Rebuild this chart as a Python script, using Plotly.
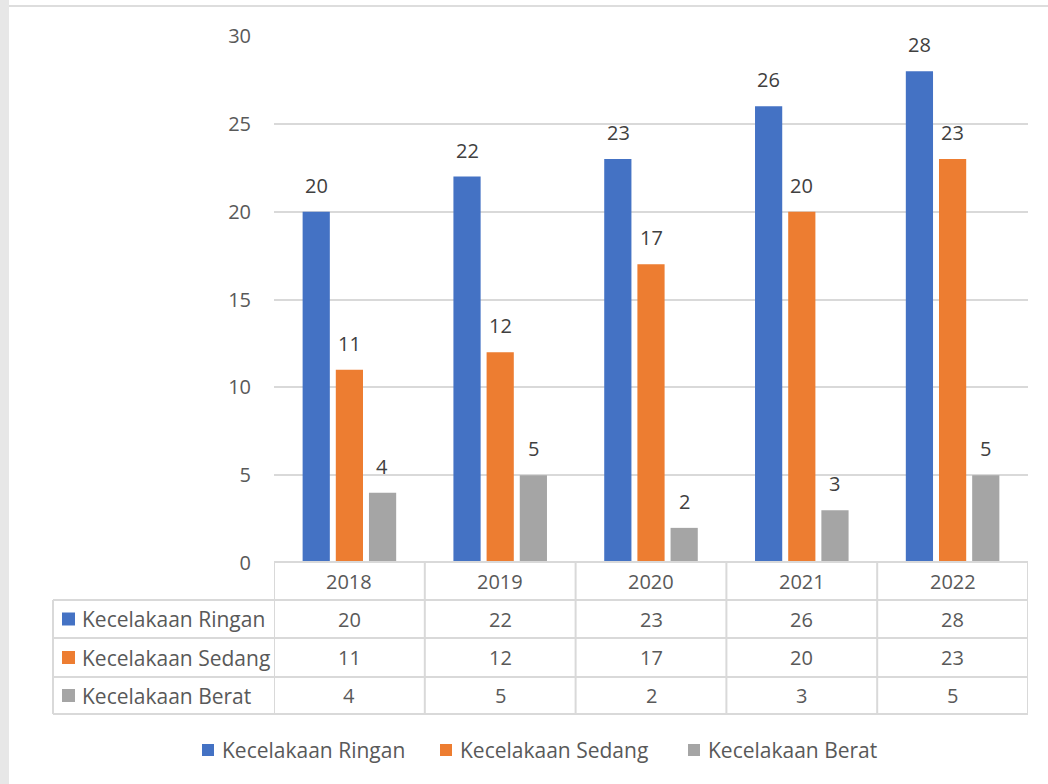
import plotly.graph_objects as go

years = ["2018", "2019", "2020", "2021", "2022"]
series_names = ["Kecelakaan Ringan", "Kecelakaan Sedang", "Kecelakaan Berat"]
ringan = [20, 22, 23, 26, 28]
sedang = [11, 12, 17, 20, 23]
berat = [4, 5, 2, 3, 5]
colors = ["#4472C4", "#ED7D31", "#A5A5A5"]
y_ticks = [0, 5, 10, 15, 20, 25, 30]

W, H = 1048, 784
FONT = "Open Sans"
FS = 20      # numbers
FS_T = 21    # text labels
TXT = "#595959"

def px(x):
    return x / W

def py(y):
    return 1 - y / H

values = [ringan, sedang, berat]
fig = go.Figure()
for name, vals, col in zip(series_names, values, colors):
    fig.add_trace(go.Bar(x=years, y=vals, name=name, marker_color=col,
                         marker_line_width=0, showlegend=False))

x_dom = [px(274), px(1028)]
y_dom = [py(563), py(36)]

fig.update_layout(
    width=W, height=H,
    margin=dict(l=0, r=0, t=0, b=0, autoexpand=False),
    paper_bgcolor="white", plot_bgcolor="white",
    barmode="group", bargap=0.34, bargroupgap=0.18,
    font=dict(family=FONT, size=FS, color=TXT),
    xaxis=dict(domain=x_dom, range=[-0.5, 4.5], showticklabels=False, automargin=False,
               showgrid=False, zeroline=False, showline=False, ticks=""),
    yaxis=dict(domain=y_dom, range=[0, 30], tickvals=y_ticks, automargin=False,
               showgrid=True, gridcolor="#D9D9D9", gridwidth=1.5,
               zeroline=False, showline=False, ticks="",
               ticklabelstandoff=22, tickfont=dict(size=FS, color=TXT)),
    showlegend=False,
)

shapes = []
annotations = []
offsets = [-33, 0, 33]
for vals, off in zip(values, offsets):
    for i, v in enumerate(vals):
        annotations.append(dict(x=i, y=v, xref="x", yref="y", text=str(v),
                                showarrow=False, xshift=off, yshift=11,
                                yanchor="bottom", font=dict(size=FS, color="#404040")))

line = dict(color="#D9D9D9", width=2)
row_edges = [562, 600, 638, 677, 714]
shapes.append(dict(type="line", xref="paper", yref="paper", x0=px(274), x1=px(1028),
                   y0=py(562), y1=py(562), line=line))
for yy in row_edges[1:]:
    shapes.append(dict(type="line", xref="paper", yref="paper", x0=px(53), x1=px(1028),
                       y0=py(yy), y1=py(yy), line=line))
for i in range(len(years) + 1):
    shapes.append(dict(type="line", xref="x", yref="paper", x0=i - 0.5, x1=i - 0.5,
                       y0=py(562), y1=py(714), line=line))
shapes.append(dict(type="line", xref="paper", yref="paper", x0=px(53), x1=px(53),
                   y0=py(600), y1=py(714), line=line))

for i, yr in enumerate(years):
    annotations.append(dict(x=i, y=py((562 + 600) / 2), xref="x", yref="paper", text=yr,
                            showarrow=False, yanchor="middle", font=dict(size=FS, color=TXT)))
for r, (name, vals, col) in enumerate(zip(series_names, values, colors)):
    yc = (row_edges[r + 1] + row_edges[r + 2]) / 2
    shapes.append(dict(type="rect", xref="paper", yref="paper", x0=px(62), x1=px(75),
                       y0=py(yc - 6.5), y1=py(yc + 6.5), fillcolor=col, line_width=0))
    annotations.append(dict(x=px(80), y=py(yc), xref="paper", yref="paper", text=name,
                            showarrow=False, xanchor="left", yanchor="middle",
                            font=dict(size=FS_T, color=TXT)))
    for i, v in enumerate(vals):
        annotations.append(dict(x=i, y=py(yc), xref="x", yref="paper", text=str(v),
                                showarrow=False, yanchor="middle", font=dict(size=FS, color=TXT)))

legend_x = [202, 440, 688]
ly = 750
for name, col, lx in zip(series_names, colors, legend_x):
    shapes.append(dict(type="rect", xref="paper", yref="paper", x0=px(lx), x1=px(lx + 12),
                       y0=py(ly - 6), y1=py(ly + 6), fillcolor=col, line_width=0))
    annotations.append(dict(x=px(lx + 18), y=py(ly), xref="paper", yref="paper", text=name,
                            showarrow=False, xanchor="left", yanchor="middle",
                            font=dict(size=FS_T, color=TXT)))

shapes.append(dict(type="rect", xref="paper", yref="paper", x0=0, x1=px(9), y0=0, y1=1,
                   fillcolor="#E7E7E7", line_width=0, layer="below"))
shapes.append(dict(type="line", xref="paper", yref="paper", x0=px(9), x1=1,
                   y0=py(6), y1=py(6), line=dict(color="#DDDDDD", width=2)))

fig.update_layout(shapes=shapes, annotations=annotations)
fig.write_html("out.html")
